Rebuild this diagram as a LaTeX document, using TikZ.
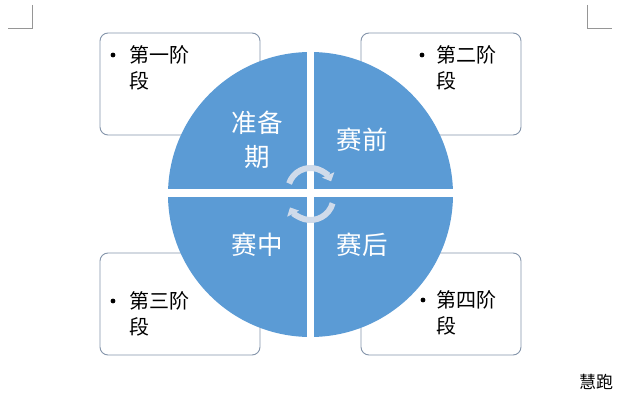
\documentclass[tikz,border=0pt]{standalone}
\usepackage{fontspec}
\newfontfamily\cjk{Noto Sans CJK SC}
\usetikzlibrary{arrows.meta}
\definecolor{qblue}{RGB}{91,155,213}
\definecolor{boxline}{RGB}{132,148,170}
\definecolor{arrowfill}{RGB}{208,219,234}
\definecolor{markgray}{RGB}{150,150,150}
\tikzset{
  stagebox/.style={draw=boxline, line width=0.9pt, rounded corners=8pt, fill=white},
  stagetext/.style={anchor=north west, inner sep=0pt, align=left, font=\cjk\fontsize{20}{26}\selectfont},
  quadtext/.style={inner sep=0pt, align=center, text=white, font=\cjk\fontsize{25.5}{34}\selectfont},
  bulletdot/.style={fill=black},
  cyclearrow/.style={draw=arrowfill, line width=6pt, -{Triangle[width=13pt,length=7pt]}},
  cornermark/.style={draw=markgray, line width=0.9pt}
}
\begin{document}
\begin{tikzpicture}[x=1pt,y=1pt]
\useasboundingbox (0,0) rectangle (640,412);
\fill[white] (0,0) rectangle (640,412);
% corner marks
\coordinate (tl1) at (32,407); \coordinate (tl2) at (32,384); \coordinate (tl3) at (8,384);
\coordinate (tr1) at (587,407); \coordinate (tr2) at (587,384); \coordinate (tr3) at (612,384);
\draw[cornermark] (tl1) -- (tl2) -- (tl3);
\draw[cornermark] (tr1) -- (tr2) -- (tr3);
% boxes
\draw[stagebox] (100,277) rectangle (260,379);
\draw[stagebox] (361,277) rectangle (521,379);
\draw[stagebox] (100,57) rectangle (260,159);
\draw[stagebox] (361,57) rectangle (521,159);
% bullets and texts
\fill[bulletdot] (113,357) circle (2.4);
\node[stagetext] (t1) at (129,367) {第一阶\\段};
\fill[bulletdot] (422,357) circle (2.4);
\node[stagetext] (t2) at (436,367) {第二阶\\段};
\fill[bulletdot] (113,111) circle (2.4);
\node[stagetext] (t3) at (129,121) {第三阶\\段};
\fill[bulletdot] (423,112) circle (2.4);
\node[stagetext] (t4) at (436,122) {第四阶\\段};
% circle
\coordinate (c) at (310.5,217.5);
\fill[qblue] (c) circle (142.5);
\begin{scope}
\clip (c) circle (143.5);
\fill[white] (307,70) rectangle (314,365);
\fill[white] (165,215.3) rectangle (456,222.7);
\end{scope}
% quadrant labels
\node[quadtext] (q1) at (257,272) {准备\\期};
\node[quadtext] (q2) at (362,272) {赛前};
\node[quadtext] (q3) at (257,167) {赛中};
\node[quadtext] (q4) at (362,167) {赛后};
% cycle arrows
\coordinate (ca) at (310.5,221.5);
\coordinate (cb) at (310.5,215);
\draw[cyclearrow] ([shift={(162:22.5)}]ca) arc[start angle=162, end angle=24, radius=22.5];
\draw[cyclearrow] ([shift={(-16:23)}]cb) arc[start angle=-16, end angle=-153, radius=23];
% footer
\node[inner sep=0pt, font=\cjk\fontsize{17}{20}\selectfont] (ft) at (596,30) {慧跑};
\end{tikzpicture}
\end{document}
